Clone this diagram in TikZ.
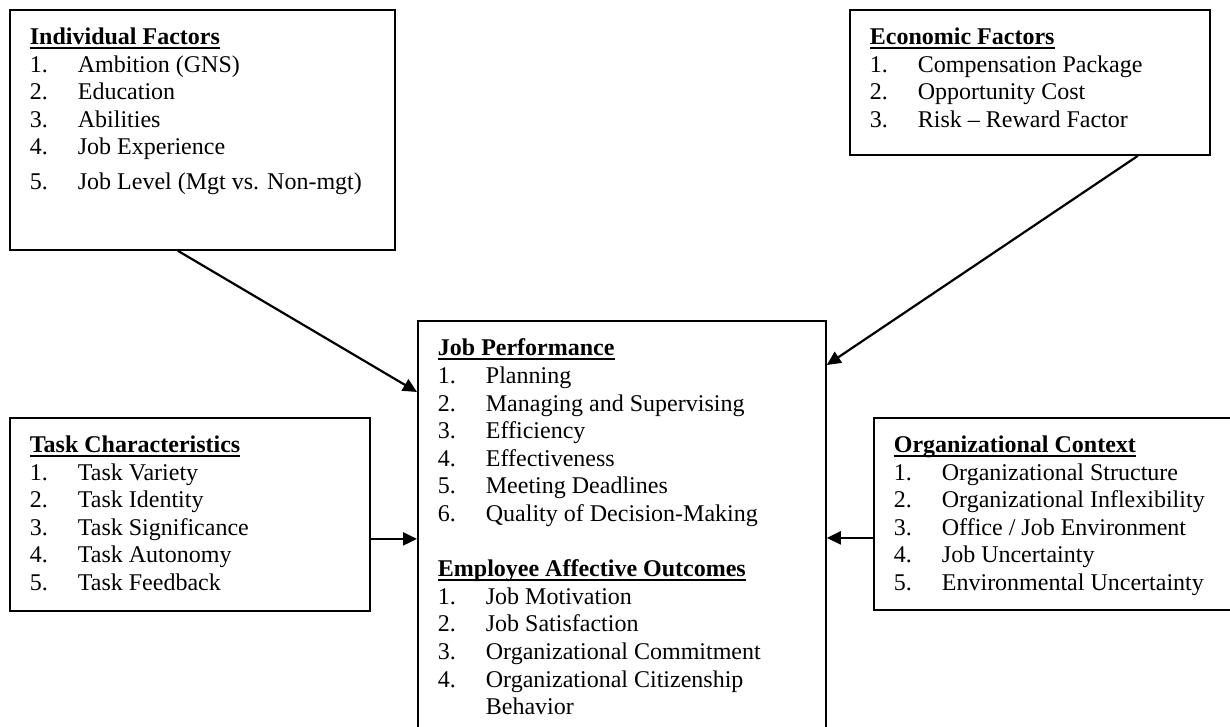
\documentclass[tikz,border=0pt]{standalone}
\usepackage{fontspec}
\setmainfont{Liberation Serif}
\usetikzlibrary{arrows.meta}

\newsavebox{\headbox}
\newcommand{\entry}[2]{\makebox[24pt][l]{#1}#2}
\newcommand{\heading}[1]{\sbox{\headbox}{\textbf{#1}}\usebox{\headbox}\llap{\rule[-2.2pt]{\wd\headbox}{0.9pt}}}

\tikzset{
	factor/.style={draw, line width=0.9pt, anchor=north west, inner xsep=10pt, inner ysep=9pt,
		font=\fontsize{12}{13.8}\selectfont},
	link/.style={line width=1.1pt, -{Triangle[length=7pt,width=6.5pt]}}
}

\begin{document}
\begin{tikzpicture}[x=0.5pt, y=-0.5pt]
	\useasboundingbox (0,0) rectangle (1230,727);
	\clip (0,0) rectangle (1230,727);

	\node[factor] (ind) at (9,9) {\parbox[t][102pt][t]{172.5pt}{\raggedright
		\heading{Individual Factors}\\
		\entry{1.}{Ambition (GNS)}\\
		\entry{2.}{Education}\\
		\entry{3.}{Abilities}\\
		\entry{4.}{Job Experience}\\[3.5pt]
		\entry{5.}{Job Level (Mgt vs. Non-mgt)}}};

	\node[factor] (eco) at (849,9) {\parbox[t][54.5pt][t]{160pt}{\raggedright
		\heading{Economic Factors}\\
		\entry{1.}{Compensation Package}\\
		\entry{2.}{Opportunity Cost}\\
		\entry{3.}{Risk -- Reward Factor}}};

	\node[factor] (job) at (417,320) {\parbox[t][202pt][t]{184pt}{\raggedright
		\heading{Job Performance}\\
		\entry{1.}{Planning}\\
		\entry{2.}{Managing and Supervising}\\
		\entry{3.}{Efficiency}\\
		\entry{4.}{Effectiveness}\\
		\entry{5.}{Meeting Deadlines}\\
		\entry{6.}{Quality of Decision-Making}\\[13.8pt]
		\heading{Employee Affective Outcomes}\\
		\entry{1.}{Job Motivation}\\
		\entry{2.}{Job Satisfaction}\\
		\entry{3.}{Organizational Commitment}\\
		\entry{4.}{Organizational Citizenship}\\
		\entry{}{Behavior}}};

	\node[factor] (task) at (9,417) {\parbox[t][78.5pt][t]{160pt}{\raggedright
		\heading{Task Characteristics}\\
		\entry{1.}{Task Variety}\\
		\entry{2.}{Task Identity}\\
		\entry{3.}{Task Significance}\\
		\entry{4.}{Task Autonomy}\\
		\entry{5.}{Task Feedback}}};

	\node[factor] (org) at (873,417) {\parbox[t][78pt][t]{161pt}{\raggedright
		\heading{Organizational Context}\\
		\entry{1.}{Organizational Structure}\\
		\entry{2.}{Organizational Inflexibility}\\
		\entry{3.}{Office / Job Environment}\\
		\entry{4.}{Job Uncertainty}\\
		\entry{5.}{Environmental Uncertainty}}};

	% influences on the central box
	\draw[link] ([xshift=-12.25pt]ind.south) -- ([yshift=-36pt]job.north west);
	\draw[link] ([xshift=54pt]eco.south) -- ([yshift=-22.5pt]job.north east);
	\draw[link] ([yshift=-12.25pt]task.east) -- ([yshift=-12.25pt]task.east -| job.west);
	\draw[link] ([yshift=-12pt]org.west) -- ([yshift=-12pt]org.west -| job.east);
\end{tikzpicture}
\end{document}
